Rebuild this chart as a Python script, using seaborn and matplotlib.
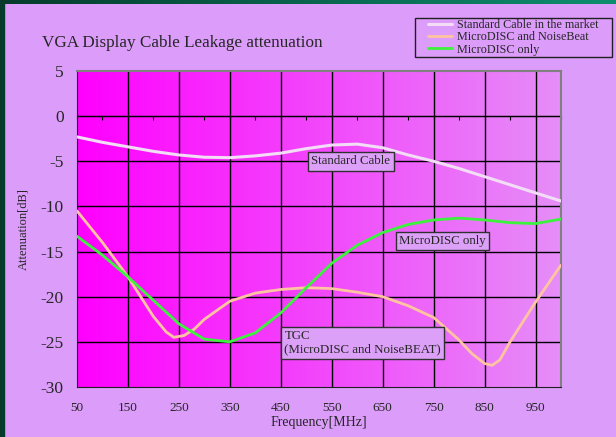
import numpy as np
import pandas as pd
import matplotlib.pyplot as plt
import seaborn as sns
from matplotlib.colors import LinearSegmentedColormap
from matplotlib.patches import Rectangle

# values (MHz, dB)
std_freq = [50, 100, 150, 200, 250, 300, 350, 400, 450, 500, 550, 600, 650, 700, 750, 800, 850, 900, 950, 1000]
std_att = [-2.3, -2.9, -3.4, -3.9, -4.3, -4.55, -4.6, -4.4, -4.1, -3.6, -3.2, -3.1, -3.5, -4.3, -5.0, -5.8, -6.7, -7.6, -8.5, -9.4]

tgc_freq = [50, 100, 150, 175, 200, 225, 240, 260, 280, 300, 350, 400, 450, 500, 550, 600, 650, 700, 750, 800, 825, 850, 865, 880, 900, 950, 1000]
tgc_att = [-10.5, -14.0, -17.8, -20.0, -22.2, -23.9, -24.5, -24.3, -23.6, -22.5, -20.5, -19.6, -19.2, -19.0, -19.1, -19.5, -20.0, -21.0, -22.3, -24.8, -26.3, -27.4, -27.6, -27.0, -25.0, -20.6, -16.5]

mdisc_freq = [50, 100, 150, 200, 250, 300, 350, 400, 450, 500, 550, 600, 650, 700, 750, 800, 850, 900, 950, 1000]
mdisc_att = [-13.3, -15.4, -17.8, -20.4, -23.0, -24.7, -25.0, -24.0, -21.8, -19.0, -16.3, -14.3, -12.9, -12.0, -11.5, -11.3, -11.5, -11.8, -11.9, -11.4]

x_ticks = [50, 150, 250, 350, 450, 550, 650, 750, 850, 950]
y_ticks = [5, 0, -5, -10, -15, -20, -25, -30]

sns.set_style('white')
plt.rcParams['font.family'] = ['Liberation Serif', 'DejaVu Serif']

bg = '#DC9CFA'
fig = plt.figure(figsize=(6.16, 4.37), dpi=100, facecolor=bg)
ax = fig.add_axes([77 / 616, 1 - 387 / 437, 484 / 616, 316 / 437])

# slide frame strips
top = fig.add_axes([0, 1 - 4 / 437, 1, 4 / 437])
top.imshow(np.linspace(0, 1, 256).reshape(1, -1), aspect='auto',
           cmap=LinearSegmentedColormap.from_list('frame', ['#063A2C', '#0E8E70']))
top.axis('off')
fig.patches.append(Rectangle((0, 0), 4 / 616, 1, transform=fig.transFigure, color='#063A2C', zorder=5))

# gradient plot area
grad = LinearSegmentedColormap.from_list('area', ['#FF00FF', '#E68EF8'])
ax.imshow(np.linspace(0, 1, 256).reshape(1, -1), aspect='auto', cmap=grad,
          extent=[50, 1000, -30, 5], zorder=0)

for x in range(150, 1000, 100):
    ax.axvline(x, color='black', lw=1, zorder=1)
for y in range(-25, 5, 5):
    ax.axhline(y, color='black', lw=1, zorder=1)

std_df = pd.DataFrame({'freq': std_freq, 'att': std_att})
tgc_df = pd.DataFrame({'freq': tgc_freq, 'att': tgc_att})
mdisc_df = pd.DataFrame({'freq': mdisc_freq, 'att': mdisc_att})

sns.lineplot(data=std_df, x='freq', y='att', ax=ax, color='#F2DCF6', lw=2.2,
             label='Standard Cable in the market', zorder=3)
sns.lineplot(data=tgc_df, x='freq', y='att', ax=ax, color='#FFC4A0', lw=2,
             label='MicroDISC and NoiseBeat', zorder=3)
sns.lineplot(data=mdisc_df, x='freq', y='att', ax=ax, color='#3CF23C', lw=2,
             label='MicroDISC only', zorder=3)

ax.set_xlim(50, 1000)
ax.set_ylim(-30, 5)
ax.set_xticks(x_ticks)
ax.set_xticklabels([str(t) for t in x_ticks], fontsize=9.5)
ax.set_yticks(y_ticks)
ax.set_yticklabels([str(t) for t in y_ticks], fontsize=12.5)
ax.tick_params(axis='x', length=0, pad=11)
ax.tick_params(axis='y', length=0, pad=9.5)
ax.set_xlabel('Frequency[MHz]', fontsize=10, labelpad=1)
ax.set_ylabel('Attenuation[dB]', fontsize=9, labelpad=8)
for s in ['left', 'bottom']:
    ax.spines[s].set_color('#202020')
for s in ['right', 'top']:
    ax.spines[s].set_color('#808080')
    ax.spines[s].set_linewidth(1.5)

# zero line with small ticks
zero = ax.secondary_xaxis(30 / 35)
zero.set_xticks(range(50, 1001, 50))
zero.set_xticklabels([])
zero.tick_params(direction='in', length=3, color='black')
zero.spines['bottom'].set_color('black')

box = dict(boxstyle='square,pad=0.25', fc='#DDA0F8', ec='#303030', lw=1)
ax.text(510, -5.0, 'Standard Cable', fontsize=9.3, va='center', ha='left', bbox=box, zorder=4)
ax.text(682, -13.8, 'MicroDISC only', fontsize=9.3, va='center', ha='left', bbox=box, zorder=4)
ax.text(457, -25.1, 'TGC\n(MicroDISC and NoiseBEAT)', fontsize=9.3, va='center', ha='left',
        bbox=box, zorder=4, linespacing=1.15)

fig.text(42 / 616, 1 - 43 / 437, 'VGA Display Cable Leakage attenuation', fontsize=12.3, va='center', ha='left')

# legend box drawn as a patch, legend entries inside without frame
fig.patches.append(Rectangle((415 / 616, 1 - 57 / 437), 197 / 616, 39 / 437, transform=fig.transFigure,
                             fc=bg, ec='#202020', lw=1, zorder=2))
ax.get_legend().remove()
handles, labels = ax.get_legend_handles_labels()
leg = fig.legend(handles, labels, loc='upper left', bbox_to_anchor=(427 / 616, 1 - 18 / 437),
                 fontsize=8.7, frameon=False, handlelength=2, borderpad=0.1, labelspacing=0.02,
                 handletextpad=0.4, borderaxespad=0)
leg.set_zorder(3)

fig.savefig('out.png', dpi=100, facecolor=bg)
